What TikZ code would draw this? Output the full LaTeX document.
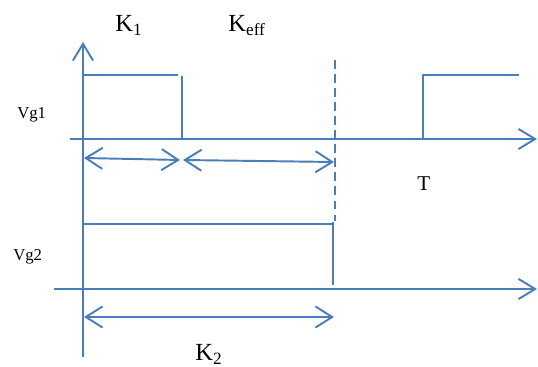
\documentclass[tikz,border=0pt]{standalone}
\usepackage{fontspec}
\setmainfont{Liberation Serif}
\usetikzlibrary{arrows.meta}
\definecolor{wordblue}{HTML}{4A7EBB}

\begin{document}
\begin{tikzpicture}[x=0.02cm,y=-0.02cm,
    wire/.style={wordblue,line width=1.1pt},
    axis/.style={wire,-{Straight Barb[length=9.5pt,width=11.5pt,line width=1.1pt]}},
    span/.style={wire,{Straight Barb[length=9.5pt,width=12pt,line width=1.1pt]}-{Straight Barb[length=9.5pt,width=12pt,line width=1.1pt]}},
    big/.style={font=\fontsize{14}{16}\selectfont},
    small/.style={font=\fontsize{9.5}{11}\selectfont}]
            \tikzstyle{every node}+=[inner sep=0pt]
            \useasboundingbox (0,0) rectangle (538,367);
            % axes
            \coordinate (ybot) at (83,357);
            \coordinate (ytop) at (83,42);
            \coordinate (t1l) at (70,139);
            \coordinate (t1r) at (537,139);
            \coordinate (t2l) at (54,289);
            \coordinate (t2r) at (537,289);
            \draw [axis] (ybot) -- (ytop);
            \draw [axis] (t1l) -- (t1r);
            \draw [axis] (t2l) -- (t2r);
            % gate pulses
            \draw [wire] (83,75) -- (178,75);
            \draw [wire] (182,76) -- (182,139);
            \draw [wire] (423,139) -- (423,75) -- (519,75);
            \draw [wire] (83,224) -- (334,224);
            \draw [wire] (333,222) -- (333,285);
            \draw [wire,dash pattern=on 5pt off 3pt] (335,60) -- (335,221);
            % spans
            \coordinate (k1a) at (84,158);
            \coordinate (k1b) at (180,160);
            \coordinate (kea) at (183,160);
            \coordinate (keb) at (334,162);
            \coordinate (k2a) at (84,317);
            \coordinate (k2b) at (334,317);
            \draw [span] (k1a) -- (k1b);
            \draw [span] (kea) -- (keb);
            \draw [span] (k2a) -- (k2b);
            % labels
            \node [big,anchor=base west] (k1) at (115,32) {K\textsubscript{1}};
            \node [big,anchor=base west] (keff) at (228,32) {K\textsubscript{eff}};
            \node [big,anchor=base west] (k2) at (195,361) {K\textsubscript{2}};
            \node [small,anchor=base west] (vg1) at (17,119) {Vg1};
            \node [small,anchor=base west] (vg2) at (13,261) {Vg2};
            \node [font=\fontsize{12}{14}\selectfont,anchor=base west] (per) at (417,191) {T};
\end{tikzpicture}
\end{document}
